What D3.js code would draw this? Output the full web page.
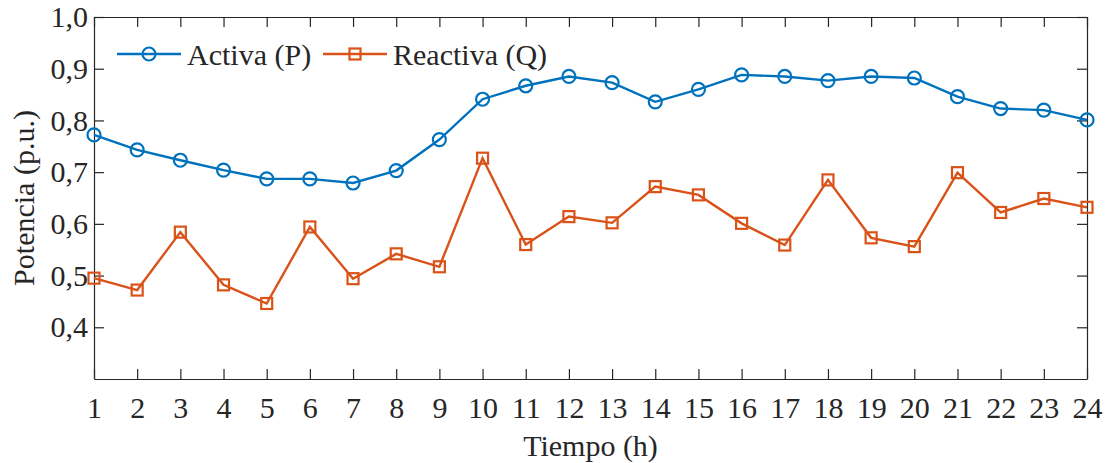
<!DOCTYPE html>
<html>
<head>
<meta charset="utf-8">
<script src="https://cdn.jsdelivr.net/npm/d3@7"></script>
<style>
  body { margin: 0; background: #fff; }
  #chart text { font-family: "Liberation Serif", "Times New Roman", serif; fill: #262626; }
</style>
</head>
<body>
<div id="chart"></div>
<script>
// hours of the day
const horas = d3.range(1, 25);

// active power (p.u.)
const activa = [0.772, 0.743, 0.723, 0.704, 0.687, 0.687, 0.679, 0.703, 0.763, 0.841, 0.867, 0.885,
                0.873, 0.836, 0.860, 0.888, 0.885, 0.877, 0.885, 0.882, 0.846, 0.823, 0.820, 0.801];

// reactive power (p.u.)
const reactiva = [0.495, 0.472, 0.584, 0.482, 0.446, 0.594, 0.494, 0.542, 0.517, 0.727, 0.560, 0.614,
                  0.602, 0.672, 0.656, 0.601, 0.559, 0.685, 0.573, 0.556, 0.699, 0.622, 0.649, 0.632];

const yTicks = [0.4, 0.5, 0.6, 0.7, 0.8, 0.9, 1.0];

const series = [
    { name: "Activa (P)", values: activa, color: "#0072BD", marker: "circle" },
    { name: "Reactiva (Q)", values: reactiva, color: "#D95319", marker: "square" }
];

const width = 1106, height = 463;
const margin = { top: 17, right: 19, bottom: 84, left: 94 };

const svg = d3.select("#chart")
    .append("svg")
    .attr("width", width)
    .attr("height", height);

const x = d3.scaleLinear().domain([1, 24]).range([margin.left, width - margin.right]);
const y = d3.scaleLinear().domain([0.3, 1.0]).range([height - margin.bottom, margin.top]);

const es = d3.formatLocale({ decimal: ",", thousands: ".", grouping: [3], currency: ["", "€"] });
const fmt = es.format(".1f");

const fontSize = 30;

// axes, ticks pointing inward on every side
const axisStyle = g => {
    g.selectAll(".domain").attr("stroke", "#262626").attr("stroke-width", 1.2);
    g.selectAll(".tick line").attr("stroke", "#262626").attr("stroke-width", 1.2);
    g.selectAll("text").style("font-size", fontSize + "px").attr("fill", "#262626");
};

svg.append("g")
    .attr("transform", `translate(0,${y(0.3)})`)
    .call(d3.axisBottom(x).tickValues(horas).tickFormat(d3.format("d")).tickSizeInner(-10).tickSizeOuter(0).tickPadding(18))
    .call(axisStyle);

svg.append("g")
    .attr("transform", `translate(0,${y(1.0)})`)
    .call(d3.axisTop(x).tickValues(horas).tickFormat("").tickSizeInner(-10).tickSizeOuter(0))
    .call(axisStyle);

svg.append("g")
    .attr("transform", `translate(${x(1)},0)`)
    .call(d3.axisLeft(y).tickValues(yTicks).tickFormat(fmt).tickSizeInner(-10).tickSizeOuter(0).tickPadding(6))
    .call(axisStyle);

svg.append("g")
    .attr("transform", `translate(${x(24)},0)`)
    .call(d3.axisRight(y).tickValues(yTicks).tickFormat("").tickSizeInner(-10).tickSizeOuter(0))
    .call(axisStyle);

// axis titles
svg.append("text")
    .attr("x", (x(1) + x(24)) / 2)
    .attr("y", 456)
    .attr("text-anchor", "middle")
    .style("font-size", fontSize + "px")
    .text("Tiempo (h)");

svg.append("text")
    .attr("transform", `translate(34,${(y(0.3) + y(1.0)) / 2}) rotate(-90)`)
    .attr("text-anchor", "middle")
    .style("font-size", fontSize + "px")
    .text("Potencia (p.u.)");

// lines and markers
const line = d3.line().x((d, i) => x(horas[i])).y(d => y(d));

function drawMarker(g, type, color) {
    if (type === "circle") {
        g.append("circle").attr("r", 6.5)
            .attr("fill", "none").attr("stroke", color).attr("stroke-width", 2.2);
    } else {
        g.append("rect").attr("x", -5.5).attr("y", -5.5).attr("width", 11).attr("height", 11)
            .attr("fill", "none").attr("stroke", color).attr("stroke-width", 2.2);
    }
}

series.forEach(s => {
    svg.append("path")
        .datum(s.values)
        .attr("d", line)
        .attr("fill", "none")
        .attr("stroke", s.color)
        .attr("stroke-width", 2.4);

    s.values.forEach((v, i) => {
        const g = svg.append("g").attr("transform", `translate(${x(horas[i])},${y(v)})`);
        drawMarker(g, s.marker, s.color);
    });
});

// legend (no box)
const legendX = [117, 323];
series.forEach((s, i) => {
    const g = svg.append("g").attr("transform", `translate(${legendX[i]},54)`);
    g.append("line").attr("x1", 0).attr("x2", 64).attr("y1", 0).attr("y2", 0)
        .attr("stroke", s.color).attr("stroke-width", 2.4);
    const m = g.append("g").attr("transform", "translate(32,0)");
    drawMarker(m, s.marker, s.color);
    g.append("text")
        .attr("x", 70)
        .attr("y", 11)
        .style("font-size", fontSize + "px")
        .text(s.name);
});
</script>
</body>
</html>
